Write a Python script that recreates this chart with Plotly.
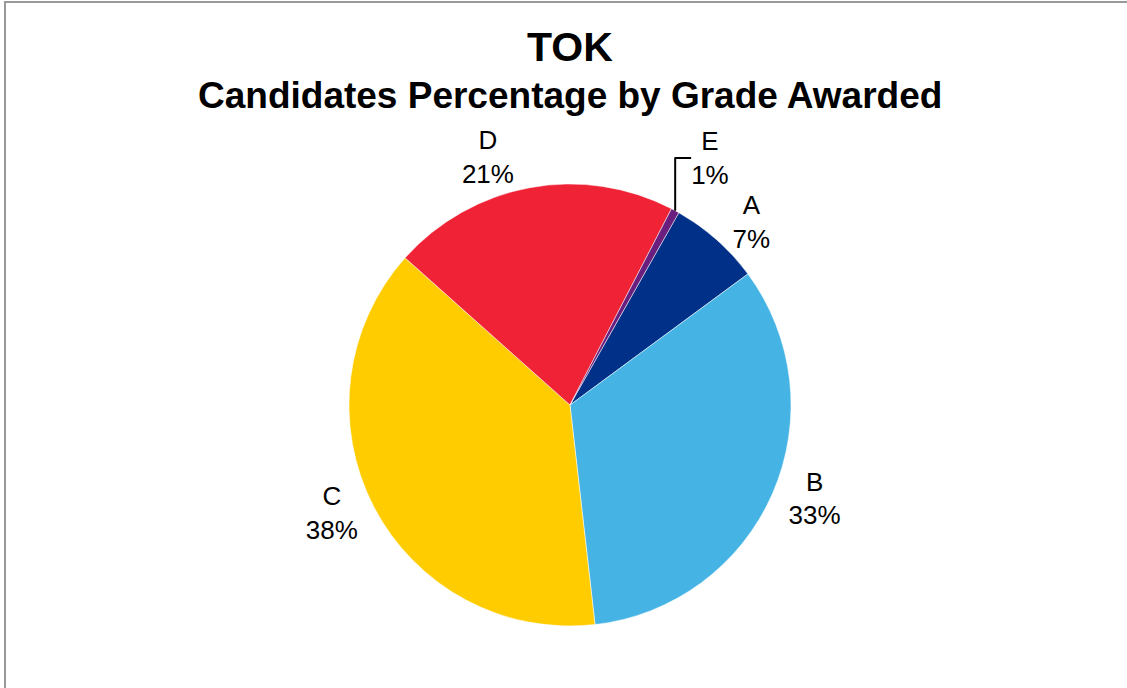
import plotly.graph_objects as go

grades = ["A", "B", "C", "D", "E"]
percentages = [6.7, 33.3, 38.4, 21.0, 0.6]
colors = ["#003087", "#45B4E5", "#FFCC00", "#F02236", "#6A1F7F"]
title_main = "TOK"
title_sub = "Candidates Percentage by Grade Awarded"

W, H = 1127, 688
cx, cy, r = 570, 405, 221
FONT = "Liberation Sans, Arial, sans-serif"

fig = go.Figure(go.Pie(
    labels=grades,
    values=percentages,
    sort=False,
    direction="clockwise",
    rotation=29.5,
    marker=dict(colors=colors, line=dict(color="white", width=0.5)),
    textposition="outside",
    texttemplate="%{label}<br>%{percent:.0%}",
    textfont=dict(family=FONT, size=26, color="black"),
    showlegend=False,
    hoverinfo="label+percent",
    domain=dict(x=[(cx - r) / W, (cx + r) / W], y=[1 - (cy + r) / H, 1 - (cy - r) / H]),
))

fig.update_layout(
    width=W, height=H,
    margin=dict(l=0, r=0, t=0, b=0),
    paper_bgcolor="white",
    plot_bgcolor="white",
    annotations=[
        dict(text="<b>" + title_main + "</b>", xref="paper", yref="paper",
             x=570 / W, y=1 - 47 / H, xanchor="center", yanchor="middle", showarrow=False,
             font=dict(family=FONT, size=41, color="black")),
        dict(text="<b>" + title_sub + "</b>", xref="paper", yref="paper",
             x=570 / W, y=1 - 95 / H, xanchor="center", yanchor="middle", showarrow=False,
             font=dict(family=FONT, size=37, color="black")),
    ],
    shapes=[dict(type="rect", xref="paper", yref="paper",
                 x0=5 / W, x1=1.01, y0=-0.01, y1=1 - 2 / H,
                 line=dict(color="#999999", width=2))],
)

fig.write_html("out.html", config={"displayModeBar": False},
               post_script="document.body.style.margin='0';document.body.style.overflow='hidden';")
